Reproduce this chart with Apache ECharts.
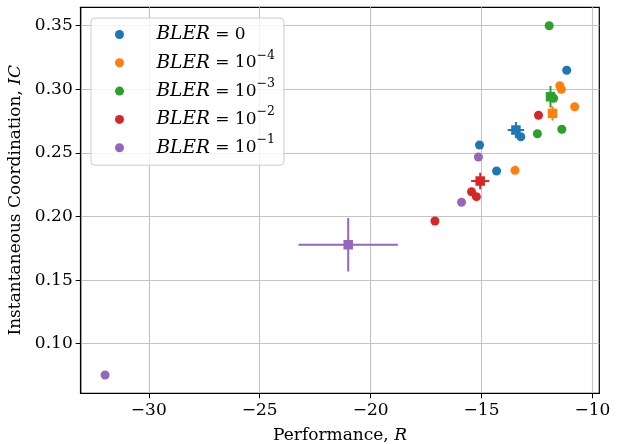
<!DOCTYPE html>
<html>
<head>
<meta charset="utf-8">
<script src="https://cdn.jsdelivr.net/npm/echarts@6/dist/echarts.min.js"></script>
<style>html,body{margin:0;padding:0;background:#fff;}#c{width:618px;height:444px;}</style>
</head>
<body>
<div id="c"></div>
<script>
// ---- data ----
const groupNames = ['BLER0', 'BLER-4', 'BLER-3', 'BLER-2', 'BLER-1'];
const groupExponents = ['', '−4', '−3', '−2', '−1'];
const colors = ['#1f77b4', '#ff7f0e', '#2ca02c', '#d62728', '#9467bd'];

const blueX = [-11.16, -13.23, -15.09, -14.32];
const blueY = [0.315, 0.2627, 0.2562, 0.2358];
const orangeX = [-11.47, -11.40, -10.80, -13.49];
const orangeY = [0.3028, 0.300, 0.2863, 0.2363];
const greenX = [-11.95, -12.48, -11.38, -11.75];
const greenY = [0.350, 0.2651, 0.2686, 0.293];
const redX = [-12.43, -15.45, -15.23, -17.10];
const redY = [0.2796, 0.2195, 0.2156, 0.1965];
const purpleX = [-15.14, -15.90, -31.97];
const purpleY = [0.2468, 0.2112, 0.0754];

const meanX = [-13.45, -11.80, -11.89, -15.06, -21.01];
const meanY = [0.268, 0.2811, 0.2942, 0.2279, 0.1778];
const errX = [0.37, 0.15, 0.08, 0.41, 2.24];
const errY = [0.0063, 0.0056, 0.0085, 0.0065, 0.021];

const xTicks = [-30, -25, -20, -15, -10];
const yTicks = [0.10, 0.15, 0.20, 0.25, 0.30, 0.35];
const xMin = -33.07, xMax = -9.69;
const yMin = 0.061, yMax = 0.3645;

// ---- build ----
const allX = [blueX, orangeX, greenX, redX, purpleX];
const allY = [blueY, orangeY, greenY, redY, purpleY];
const FONT = '"DejaVu Serif", serif';
const FS = 17;

const series = [];
groupNames.forEach((name, g) => {
  series.push({
    type: 'scatter',
    name: name,
    symbol: 'circle',
    symbolSize: 9,
    itemStyle: { color: colors[g], opacity: 1 },
    data: allX[g].map((x, i) => [x, allY[g][i]]),
    z: 3
  });
  series.push({
    type: 'custom',
    name: name + '_mean',
    z: 4,
    data: [[meanX[g], meanY[g], errX[g], errY[g]]],
    encode: { x: 0, y: 1 },
    renderItem: function (params, api) {
      const x = api.value(0), y = api.value(1), ex = api.value(2), ey = api.value(3);
      const c = api.coord([x, y]);
      const l = api.coord([x - ex, y]), r = api.coord([x + ex, y]);
      const t = api.coord([x, y + ey]), b = api.coord([x, y - ey]);
      const s = 9.5;
      const col = colors[g];
      return {
        type: 'group',
        children: [
          { type: 'line', shape: { x1: l[0], y1: l[1], x2: r[0], y2: r[1] }, style: { stroke: col, lineWidth: 2 } },
          { type: 'line', shape: { x1: t[0], y1: t[1], x2: b[0], y2: b[1] }, style: { stroke: col, lineWidth: 2 } },
          { type: 'rect', shape: { x: c[0] - s / 2, y: c[1] - s / 2, width: s, height: s }, style: { fill: col } }
        ]
      };
    }
  });
});

const chart = echarts.init(document.getElementById('c'));
chart.setOption({
  animation: false,
  backgroundColor: '#fff',
  grid: { left: 80.7, right: 18.7, top: 7.3, bottom: 50.7, outerBoundsMode: 'none', containLabel: false, show: true, borderColor: '#000', borderWidth: 1.2, backgroundColor: 'transparent' },
  xAxis: {
    type: 'value', min: xMin, max: xMax, splitNumber: 5,
    name: 'Performance, {it|R}', nameLocation: 'middle', nameGap: 34,
    nameTextStyle: { fontFamily: FONT, fontSize: FS, color: '#000', rich: { it: { fontFamily: FONT, fontSize: FS, fontStyle: 'italic', color: '#000' } } },
    axisLine: { show: true, onZero: false, lineStyle: { color: '#000', width: 1.2 } },
    axisTick: { show: true, length: 5, customValues: xTicks, lineStyle: { color: '#000', width: 1 } },
    axisLabel: { customValues: xTicks, margin: 9, fontFamily: FONT, fontSize: FS, color: '#000', formatter: v => (v < 0 ? '−' : '') + Math.abs(v) },
    splitLine: { show: true, lineStyle: { color: '#c4c4c4', width: 1.1 } }
  },
  yAxis: {
    type: 'value', min: yMin, max: yMax, splitNumber: 6,
    name: 'Instantaneous Coordination, {it|IC}', nameLocation: 'middle', nameGap: 38,
    nameTextStyle: { fontFamily: FONT, fontSize: FS, color: '#000', rich: { it: { fontFamily: FONT, fontSize: FS, fontStyle: 'italic', color: '#000' } } },
    axisLine: { show: true, onZero: false, lineStyle: { color: '#000', width: 1.2 } },
    axisTick: { show: true, length: 5, customValues: yTicks, lineStyle: { color: '#000', width: 1 } },
    axisLabel: { customValues: yTicks, margin: 8, fontFamily: FONT, fontSize: FS, color: '#000', formatter: v => v.toFixed(2) },
    splitLine: { show: true, lineStyle: { color: '#c4c4c4', width: 1.1 } }
  },
  legend: {
    data: groupNames.map(n => ({ name: n, icon: 'circle' })),
    orient: 'vertical',
    left: 91, top: 18,
    padding: [7, 9, 8, 24],
    itemWidth: 14, itemHeight: 9, itemGap: 4.8,
    backgroundColor: 'rgba(255,255,255,0.8)',
    borderColor: '#cccccc', borderWidth: 1, borderRadius: 4,
    selectedMode: false,
    formatter: function (name) {
      const g = groupNames.indexOf(name);
      if (!groupExponents[g]) return '{sp|}{it|BLER}{eq| = }{rm|0}';
      return '{sp|}{it|BLER}{eq| = }{rm|10}{sup|' + groupExponents[g] + '}';
    },
    textStyle: {
      fontFamily: FONT, fontSize: FS, color: '#000',
      rich: {
        sp: { width: 25, lineHeight: 28 },
        it: { fontFamily: FONT, fontSize: 18.5, fontStyle: 'italic', color: '#000', lineHeight: 28 },
        eq: { fontFamily: FONT, fontSize: FS, color: '#000', lineHeight: 28 },
        rm: { fontFamily: FONT, fontSize: FS, color: '#000', lineHeight: 28 },
        sup: { fontFamily: FONT, fontSize: 12.5, color: '#000', verticalAlign: 'top' }
      }
    }
  },
  series: series
});
</script>
</body>
</html>
